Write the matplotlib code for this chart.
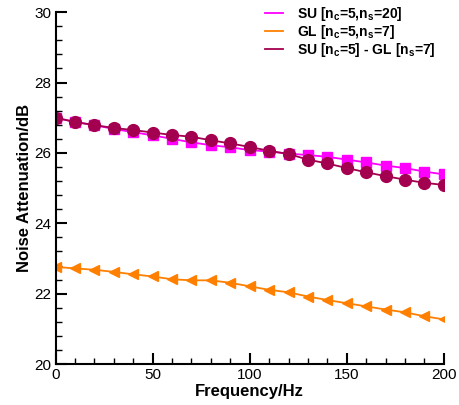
import matplotlib
matplotlib.use("Agg")
import matplotlib.pyplot as plt
from matplotlib.ticker import MultipleLocator

plt.rcParams['font.family'] = ['Liberation Sans', 'DejaVu Sans']
plt.rcParams['mathtext.fontset'] = 'custom'
plt.rcParams['mathtext.bf'] = 'Liberation Sans:bold'
plt.rcParams['mathtext.rm'] = 'Liberation Sans:bold'
plt.rcParams['mathtext.default'] = 'bf'

# frequency points (Hz)
freq = [0, 10, 20, 30, 40, 50, 60, 70, 80, 90, 100,
        110, 120, 130, 140, 150, 160, 170, 180, 190, 200]

# SU nc=5, ns=20
su = [27.0, 26.88, 26.79, 26.68, 26.59, 26.50, 26.40, 26.30, 26.22, 26.16, 26.08,
      26.04, 25.98, 25.94, 25.89, 25.81, 25.73, 25.64, 25.57, 25.47, 25.39]
# GL nc=5, ns=7
gl = [22.76, 22.72, 22.68, 22.62, 22.55, 22.49, 22.41, 22.38, 22.38, 22.31, 22.21,
      22.11, 22.04, 21.92, 21.82, 21.73, 21.64, 21.55, 21.47, 21.36, 21.27]
# SU nc=5 - GL ns=7
mixed = [27.0, 26.88, 26.79, 26.71, 26.65, 26.58, 26.51, 26.46, 26.36, 26.27, 26.17,
         26.06, 25.97, 25.81, 25.70, 25.57, 25.45, 25.34, 25.24, 25.15, 25.09]

labels = [r'SU [n$_c$=5,n$_s$=20]', r'GL [n$_c$=5,n$_s$=7]', r'SU [n$_c$=5] - GL [n$_s$=7]']

fig = plt.figure(figsize=(4.59, 4.05), dpi=100)
ax = fig.add_axes([0.121, 0.101, 0.846, 0.869])

ax.plot(freq, su, color='#ff00ff', lw=1.3, marker='s', ms=6.5, mec='#ff00ff')
ax.plot(freq, gl, color='#ff8000', lw=1.3, marker='<', ms=7.5, mec='#ff8000')
ax.plot(freq, mixed, color='#a3004f', lw=1.3, marker='o', ms=8.5, mec='#a3004f')

# legend drawn with lines only
handles = [plt.Line2D([], [], color=c, lw=1.3) for c in ['#ff00ff', '#ff8000', '#a3004f']]
ax.legend(handles, labels, loc='upper right', bbox_to_anchor=(1.01, 1.055), frameon=False,
          prop={'weight': 'bold', 'size': 10}, handlelength=1.3, handletextpad=1.0,
          labelspacing=0.0)

ax.set_xlim(0, 200)
ax.set_ylim(20, 30)
ax.xaxis.set_major_locator(MultipleLocator(50))
ax.xaxis.set_minor_locator(MultipleLocator(10))
ax.yaxis.set_major_locator(MultipleLocator(2))
ax.yaxis.set_minor_locator(MultipleLocator(0.4))

ax.spines['top'].set_visible(False)
ax.spines['right'].set_visible(False)
ax.spines['left'].set_linewidth(1.5)
ax.spines['bottom'].set_linewidth(1.5)
ax.tick_params(which='major', direction='in', length=8, width=1.5, labelsize=11, pad=3)
ax.tick_params(which='minor', direction='in', length=4, width=1)

ax.set_xlabel('Frequency/Hz', fontsize=12, fontweight='bold', labelpad=1)
ax.set_ylabel('Noise Attenuation/dB', fontsize=12, fontweight='bold', labelpad=2)
for sp in ['left', 'bottom']:
    ax.spines[sp].set_clip_on(False)

fig.savefig('out.png', dpi=100)
